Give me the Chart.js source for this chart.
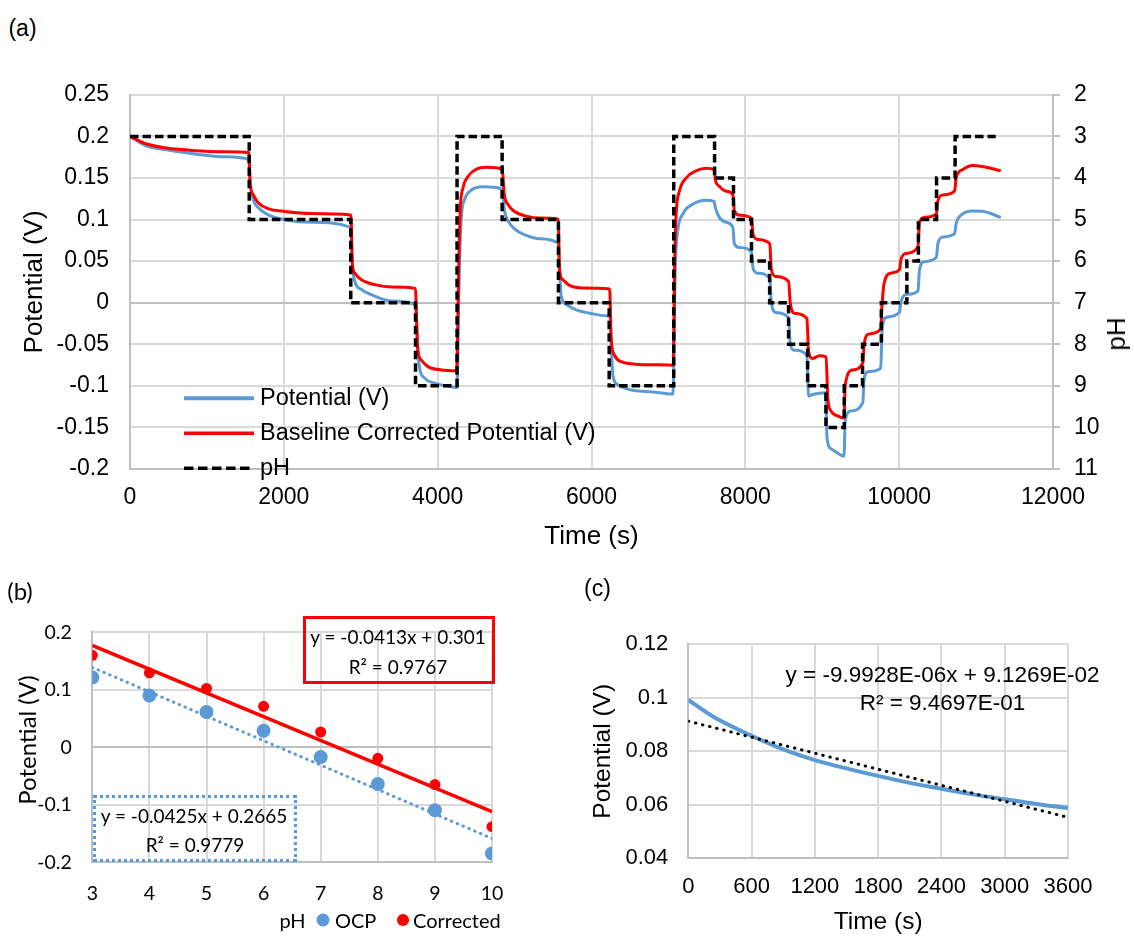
<!DOCTYPE html>
<html>
<head>
<meta charset="utf-8">
<script src="https://cdn.jsdelivr.net/npm/chart.js@4.4.1/dist/chart.umd.min.js"></script>
<style>
  html, body { margin: 0; padding: 0; background: #fff; }
  body { width: 1134px; height: 937px; position: relative; overflow: hidden;
         font-family: "Liberation Sans", Arial, sans-serif; color: #000; }
  canvas { position: absolute; }
  .c { position: absolute; white-space: nowrap; line-height: 1; transform: translate(-50%, -50%); }
  .l { position: absolute; white-space: nowrap; line-height: 1; transform: translate(0, -50%); }
  .rot { transform: translate(-50%, -50%) rotate(-90deg); }
  .cal { font-family: Lato, "Open Sans", sans-serif; }
  .box { position: absolute; box-sizing: border-box; }
  .dot { position: absolute; border-radius: 50%; transform: translate(-50%, -50%); }
</style>
</head>
<body>
<canvas id="chartA" width="1134" height="500" style="left:0;top:60px"></canvas>
<canvas id="chartB" width="580" height="337" style="left:0;top:600px"></canvas>
<canvas id="chartC" width="554" height="337" style="left:580px;top:600px"></canvas>

<!-- panel (a) labels and legend -->
<div class="c" style="left:22.5px;top:28px;font-size:23px">(a)</div>
<div class="c rot" style="left:1116px;top:334px;font-size:26px">pH</div>
<svg style="position:absolute;left:184px;top:380px" width="72" height="100">
  <line x1="0" y1="18.3" x2="70" y2="18.3" stroke="#5b9bd5" stroke-width="4"/>
  <line x1="0" y1="53.3" x2="70" y2="53.3" stroke="#ff0000" stroke-width="3.5"/>
  <line x1="0" y1="88.3" x2="70" y2="88.3" stroke="#000" stroke-width="3.5" stroke-dasharray="9.5 4.5"/>
</svg>
<div class="l" style="left:260px;top:398.3px;font-size:23.5px">Potential (V)</div>
<div class="l" style="left:260px;top:433.3px;font-size:23.5px">Baseline Corrected Potential (V)</div>
<div class="l" style="left:260px;top:468.3px;font-size:23.5px">pH</div>

<!-- panel (b) labels, fit boxes and legend -->
<div class="c cal" style="left:20px;top:591px;font-size:24px">(b)</div>
<div class="c cal rot" style="left:27px;top:740px;font-size:24px">Potential (V)</div>
<div class="box" style="left:302.7px;top:616px;width:192px;height:68px;border:3px solid #ff0000"></div>
<div class="c cal" style="left:398px;top:636px;font-size:19px">y = -0.0413x + 0.301</div>
<div class="c cal" style="left:398px;top:666px;font-size:19px">R² = 0.9767</div>
<div class="box" style="left:93px;top:795px;width:204px;height:67.3px;border:3px dotted #5b9bd5"></div>
<div class="c cal" style="left:194px;top:815px;font-size:19px">y = -0.0425x + 0.2665</div>
<div class="c cal" style="left:195px;top:844.3px;font-size:19px">R² = 0.9779</div>
<div class="c cal" style="left:292.5px;top:920px;font-size:20px">pH</div>
<div class="dot" style="left:322.7px;top:920px;width:13px;height:13px;background:#5b9bd5"></div>
<div class="l cal" style="left:335px;top:920px;font-size:20px">OCP</div>
<div class="dot" style="left:402.7px;top:920px;width:12px;height:12px;background:#ff0000"></div>
<div class="l cal" style="left:413px;top:920px;font-size:20px">Corrected</div>

<!-- panel (c) labels -->
<div class="c" style="left:597.5px;top:588px;font-size:23px">(c)</div>
<div class="c" style="left:942.5px;top:675px;font-size:22.5px">y = -9.9928E-06x + 9.1269E-02</div>
<div class="c" style="left:942.5px;top:703px;font-size:22.5px">R² = 9.4697E-01</div>

<script>
// ---------- panel (a): potential and pH over time ----------
const phTimes  = [0, 1550, 2870, 3712, 4252, 4838, 5570, 6230, 7069, 7600, 7846, 8080,
                  8316, 8562, 8810, 9048, 9286, 9524, 9768, 10100, 10250, 10486, 10727, 11255];
const phValues = [3, 5, 7, 9, 3, 5, 7, 9, 3, 4, 5, 6, 7, 8, 9, 10, 9, 8, 7, 6, 5, 4, 3, 3];

const ocpTimes = [0, 195, 455, 801, 1234, 1545,
  1565, 1601, 1666, 1796, 2013, 2360, 2870,
  2892, 2922, 3009, 3182, 3399, 3708,
  3745, 3766, 3831, 3961, 4221, 4248,
  4286, 4307, 4351, 4437, 4588, 4718, 4840,
  4870, 4913, 5000, 5152, 5325, 5565,
  5606, 5671, 5801, 5974, 6191, 6238,
  6277, 6342, 6494, 6796, 7058,
  7091, 7121, 7186, 7316, 7490, 7595,
  7610, 7662, 7749, 7838,
  7857, 7922, 8080,
  8100, 8160, 8318,
  8338, 8398, 8562,
  8584, 8636, 8800,
  8823, 8874, 9045,
  9061, 9113, 9199, 9282,
  9299, 9373, 9527,
  9545, 9610, 9760,
  9779, 9831, 10004,
  10022, 10087, 10245,
  10264, 10325, 10484,
  10503, 10562, 10721,
  10740, 10822, 10952, 11082, 11321];
const ocpValues = [0.200, 0.1893, 0.1842, 0.1795, 0.1755, 0.1722,
  0.145, 0.1243, 0.1144, 0.1057, 0.0998, 0.0967, 0.0905,
  0.045, 0.0257, 0.0158, 0.0079, 0.002, -0.0022,
  -0.06, -0.0789, -0.0907, -0.0967, -0.1018, -0.1024,
  0.0552, 0.1026, 0.1243, 0.1353, 0.1393, 0.1389, 0.1355,
  0.1104, 0.0986, 0.0888, 0.0809, 0.0769, 0.0716,
  0.0079, -0.002, -0.0087, -0.0126, -0.0158, -0.0163,
  -0.0868, -0.0986, -0.1045, -0.1073, -0.1098,
  0.0473, 0.0868, 0.1065, 0.1183, 0.1231, 0.1215,
  0.1144, 0.1026, 0.0967, 0.0905,
  0.071, 0.0663, 0.061,
  0.0414, 0.0355, 0.0294,
  0.000, -0.0118, -0.018,
  -0.0493, -0.0572, -0.0633,
  -0.1124, -0.1104, -0.1083,
  -0.1617, -0.1755, -0.1807, -0.1848,
  -0.142, -0.1302, -0.1203,
  -0.0907, -0.0828, -0.0787,
  -0.0316, -0.0178, -0.0116,
  0.000, 0.0099, 0.014,
  0.0394, 0.0493, 0.0546,
  0.071, 0.0789, 0.083,
  0.0947, 0.1065, 0.1104, 0.110, 0.1026];

const corrTimes = [0, 195, 455, 801, 1234, 1545,
  1562, 1601, 1666, 1796, 2013, 2360, 2872,
  2890, 2922, 3009, 3182, 3399, 3710,
  3740, 3788, 3874, 4048, 4245,
  4277, 4295, 4329, 4394, 4503, 4632, 4840,
  4866, 4913, 5000, 5152, 5325, 5568,
  5584, 5627, 5714, 5887, 6236,
  6256, 6299, 6386, 6623, 7013, 7062,
  7082, 7100, 7143, 7230, 7360, 7490, 7595,
  7610, 7662, 7749, 7838,
  7857, 7922, 8080,
  8100, 8160, 8318,
  8338, 8398, 8562,
  8584, 8636, 8800,
  8823, 8874, 8961, 9050,
  9072, 9113, 9199, 9282,
  9299, 9394, 9527,
  9545, 9610, 9760,
  9779, 9805, 9892, 10004,
  10022, 10087, 10245,
  10264, 10325, 10484,
  10503, 10562, 10721,
  10740, 10822, 10952, 11082, 11321];
const corrValues = [0.200, 0.1914, 0.1862, 0.1831, 0.1814, 0.1805,
  0.142, 0.130, 0.1203, 0.1132, 0.1097, 0.1073, 0.1055,
  0.0473, 0.0355, 0.0276, 0.0217, 0.0189, 0.0172,
  -0.0553, -0.069, -0.0769, -0.0809, -0.0818,
  0.0552, 0.1144, 0.138, 0.1518, 0.1606, 0.163, 0.1608,
  0.1302, 0.1183, 0.1097, 0.1041, 0.1018, 0.1005,
  0.0394, 0.0276, 0.0209, 0.0178, 0.0166,
  -0.0434, -0.0631, -0.071, -0.0742, -0.075, -0.0752,
  0.0552, 0.1065, 0.1341, 0.1499, 0.1586, 0.1617, 0.1598,
  0.1479, 0.140, 0.1341, 0.1298,
  0.1104, 0.1053, 0.1016,
  0.0828, 0.0761, 0.0708,
  0.0394, 0.0316, 0.0255,
  0.000, -0.0126, -0.019,
  -0.0592, -0.0671, -0.0639, -0.0652,
  -0.1144, -0.1302, -0.1361, -0.1388,
  -0.0986, -0.0809, -0.0725,
  -0.0493, -0.0375, -0.0314,
  0.000, 0.0237, 0.0355, 0.0396,
  0.0513, 0.0592, 0.0673,
  0.0967, 0.1026, 0.1067,
  0.1223, 0.1294, 0.1343,
  0.1499, 0.1598, 0.1649, 0.1637, 0.1586];

const timeTicks = [0, 2000, 4000, 6000, 8000, 10000, 12000];
const timeTickLabels = ['0', '2000', '4000', '6000', '8000', '10000', '12000'];
const potTicks = [-0.2, -0.15, -0.1, -0.05, 0, 0.05, 0.1, 0.15, 0.2, 0.25];
const potTickLabels = ['-0.2', '-0.15', '-0.1', '-0.05', '0', '0.05', '0.1', '0.15', '0.2', '0.25'];
const phTicks = [2, 3, 4, 5, 6, 7, 8, 9, 10, 11];
const phTickLabels = ['2', '3', '4', '5', '6', '7', '8', '9', '10', '11'];

// ---------- panel (b): potential against pH ----------
const phLevels = [3, 4, 5, 6, 7, 8, 9, 10];
const ocpByPh  = [0.1214, 0.0899, 0.0615, 0.0288, -0.017, -0.0637, -0.1095, -0.1846];
const corrByPh = [0.160, 0.1296, 0.1023, 0.0712, 0.0266, -0.0191, -0.0649, -0.138];
const ocpFit  = { slope: -0.0425, intercept: 0.2665 };
const corrFit = { slope: -0.0413, intercept: 0.301 };
const phAxisTicks = [3, 4, 5, 6, 7, 8, 9, 10];
const phAxisLabels = ['3', '4', '5', '6', '7', '8', '9', '10'];
const bPotTicks = [-0.2, -0.1, 0, 0.1, 0.2];
const bPotLabels = ['-0.2', '-0.1', '0', '0.1', '0.2'];

// ---------- panel (c): baseline drift over one hour ----------
const driftTimes  = [0, 237, 600, 900, 1200, 1500, 1800, 2100, 2400, 2700, 3000, 3300, 3600];
const driftValues = [0.0992, 0.0929, 0.0858, 0.0807, 0.0767, 0.0736, 0.0708, 0.0682,
                     0.066, 0.0639, 0.0621, 0.0603, 0.0588];
const driftFit = { slope: -9.9928e-6, intercept: 9.1269e-2 };
const hourTicks = [0, 600, 1200, 1800, 2400, 3000, 3600];
const hourLabels = ['0', '600', '1200', '1800', '2400', '3000', '3600'];
const cPotTicks = [0.04, 0.06, 0.08, 0.1, 0.12];
const cPotLabels = ['0.04', '0.06', '0.08', '0.1', '0.12'];

// ---------- helpers ----------
const pairs = (xs, ys) => xs.map((x, i) => ({ x: x, y: ys[i] }));
const fitLine = (fit, x0, x1) => [
  { x: x0, y: fit.slope * x0 + fit.intercept },
  { x: x1, y: fit.slope * x1 + fit.intercept }
];
const GRID = '#d9d9d9';
const AXIS = '#bfbfbf';
const ARIAL = '"Liberation Sans", Arial, sans-serif';
const CALIBRI = 'Lato, "Open Sans", sans-serif';

function fixedAxis(values, labels, extra) {
  const base = {
    type: 'linear',
    afterBuildTicks: s => { s.ticks = values.map(v => ({ value: v })); },
    grid: { color: ctx => (ctx.tick && ctx.tick.value === 0 ? AXIS : GRID), lineWidth: 2, drawTicks: false },
    border: { color: AXIS, width: 2 },
    ticks: { color: '#000', autoSkip: false, maxRotation: 0, callback: (v, i) => labels[i] }
  };
  const out = Object.assign({}, base, extra);
  out.ticks = Object.assign({}, base.ticks, extra.ticks || {});
  out.grid = Object.assign({}, base.grid, extra.grid || {});
  out.border = Object.assign({}, base.border, extra.border || {});
  return out;
}

const common = {
  responsive: false,
  animation: false,
  devicePixelRatio: 1,
  elements: { point: { radius: 0 }, line: { tension: 0 } },
  plugins: { legend: { display: false }, tooltip: { enabled: false } }
};

// ---------- chart (a) ----------
new Chart(document.getElementById('chartA'), {
  type: 'line',
  data: {
    datasets: [
      { label: 'Potential (V)', data: pairs(ocpTimes, ocpValues), borderColor: '#5b9bd5',
        borderWidth: 3, yAxisID: 'y', cubicInterpolationMode: 'monotone', order: 3 },
      { label: 'Baseline Corrected Potential (V)', data: pairs(corrTimes, corrValues), borderColor: '#ff0000',
        borderWidth: 3, yAxisID: 'y', cubicInterpolationMode: 'monotone', order: 2 },
      { label: 'pH', data: pairs(phTimes, phValues), borderColor: '#000', borderWidth: 3.5,
        borderDash: [8.5, 4], stepped: true, yAxisID: 'y2', order: 1 }
    ]
  },
  options: Object.assign({}, common, {
    layout: { padding: { top: 28.75, left: 0, right: 0, bottom: 0 } },
    scales: {
      x: fixedAxis(timeTicks, timeTickLabels, {
        min: 0, max: 12000,
        afterFit: s => { s.height = 91; },
        ticks: { padding: 15, font: { family: ARIAL, size: 23 } },
        title: { display: true, text: 'Time (s)', color: '#000',
                 font: { family: ARIAL, size: 26 }, padding: { top: 0, bottom: 7.7 } }
      }),
      y: fixedAxis(potTicks, potTickLabels, {
        position: 'left', min: -0.2, max: 0.25,
        afterFit: s => { s.width = 130; },
        ticks: { padding: 21, font: { family: ARIAL, size: 23 } },
        title: { display: true, text: 'Potential (V)', color: '#000',
                 font: { family: ARIAL, size: 26 }, padding: { top: 19.4, bottom: 0 } }
      }),
      y2: fixedAxis(phTicks, phTickLabels, {
        position: 'right', min: 2, max: 11, reverse: true,
        afterFit: s => { s.width = 81; },
        grid: { drawOnChartArea: false, drawTicks: true, tickLength: 7, color: AXIS },
        ticks: { padding: 14, font: { family: ARIAL, size: 23 } }
      })
    }
  })
});

// ---------- chart (b) ----------
new Chart(document.getElementById('chartB'), {
  type: 'scatter',
  data: {
    datasets: [
      { label: 'Corrected fit', data: fitLine(corrFit, 3, 10), showLine: true, borderColor: '#ff0000',
        borderWidth: 3.5, pointRadius: 0, order: 1 },
      { label: 'OCP fit', data: fitLine(ocpFit, 3, 10), showLine: true, borderColor: '#5b9bd5',
        borderWidth: 3, borderDash: [0.5, 5.8], borderCapStyle: 'round', pointRadius: 0, order: 2 },
      { label: 'OCP', data: pairs(phLevels, ocpByPh), backgroundColor: '#5b9bd5', borderWidth: 0,
        pointRadius: 7, order: 4 },
      { label: 'Corrected', data: pairs(phLevels, corrByPh), backgroundColor: '#ff0000', borderWidth: 0,
        pointRadius: 5.5, order: 3 }
    ]
  },
  options: Object.assign({}, common, {
    elements: { line: { tension: 0 } },
    layout: { padding: { top: 17.7, left: 0, right: 88, bottom: 0 } },
    scales: {
      x: fixedAxis(phAxisTicks, phAxisLabels, {
        min: 3, max: 10,
        afterFit: s => { s.height = 74.7; },
        ticks: { padding: 19.6, font: { family: CALIBRI, size: 19.5 } }
      }),
      y: fixedAxis(bPotTicks, bPotLabels, {
        min: -0.2, max: 0.2,
        afterFit: s => { s.width = 92.3; },
        ticks: { padding: 20.6, font: { family: CALIBRI, size: 19.5 } }
      })
    }
  })
});

// ---------- chart (c) ----------
new Chart(document.getElementById('chartC'), {
  type: 'line',
  data: {
    datasets: [
      { label: 'Linear fit', data: fitLine(driftFit, 0, 3600), borderColor: '#000', borderWidth: 3,
        borderDash: [0.5, 6.8], borderCapStyle: 'round', order: 1 },
      { label: 'Potential (V)', data: pairs(driftTimes, driftValues), borderColor: '#5b9bd5',
        borderWidth: 4, cubicInterpolationMode: 'monotone', order: 2 }
    ]
  },
  options: Object.assign({}, common, {
    layout: { padding: { top: 44.3, left: 0, right: 66, bottom: 0 } },
    scales: {
      x: fixedAxis(hourTicks, hourLabels, {
        min: 0, max: 3600,
        afterFit: s => { s.height = 78.7; },
        ticks: { padding: 15.2, font: { family: ARIAL, size: 22 } },
        title: { display: true, text: 'Time (s)', color: '#000',
                 font: { family: ARIAL, size: 24.5 }, padding: { top: 0, bottom: 0 } }
      }),
      y: fixedAxis(cPotTicks, cPotLabels, {
        min: 0.04, max: 0.12,
        afterFit: s => { s.width = 108.3; },
        ticks: { padding: 20, font: { family: ARIAL, size: 22 } },
        title: { display: true, text: 'Potential (V)', color: '#000',
                 font: { family: ARIAL, size: 24.5 }, padding: { top: 8.3, bottom: 0 } }
      })
    }
  })
});
</script>
</body>
</html>
